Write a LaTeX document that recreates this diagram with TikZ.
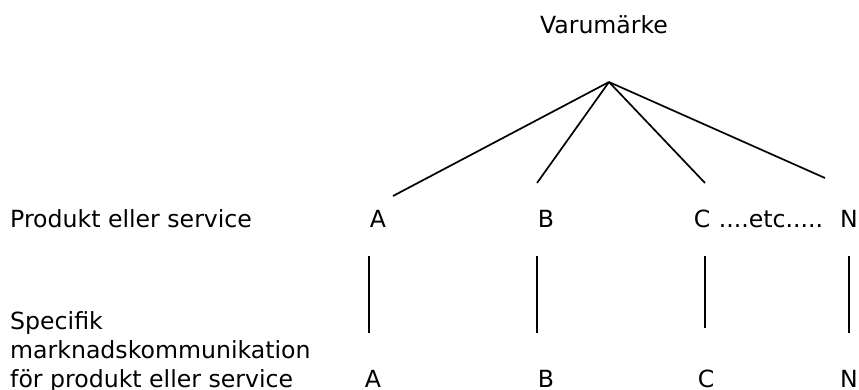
\documentclass[tikz,border=0pt]{standalone}
\usepackage{fontspec}
\setmainfont{DejaVu Sans}
\begin{document}
\begin{tikzpicture}[x=1bp,y=-1bp,
  lbl/.style={inner sep=0pt,anchor=base,font=\fontsize{23.7}{28}\selectfont},
  lbw/.style={lbl,anchor=base west},
  ln/.style={line width=1.7bp,black}]
\useasboundingbox[fill=white] (0,0) rectangle (859,389);
% top
\node[lbl] (brand) at (604,33) {Varumärke};
\coordinate (apex) at (609,82);
\coordinate (eA) at (393,196);
\coordinate (eB) at (537,183);
\coordinate (eC) at (705,183);
\coordinate (eN) at (825,178);
\foreach \e in {eA,eB,eC,eN} \draw[ln] (apex) -- (\e);
% product row
\node[lbw] (prod) at (10,227) {Produkt eller service};
\node[lbl] (pA) at (378,227) {A};
\node[lbl] (pB) at (546,227) {B};
\node[lbl] (pC) at (702,227) {C};
\node[lbl] (etc) at (771,227) {....etc.....};
\node[lbl] (pN) at (849,227) {N};
% vertical lines
\coordinate (aA1) at (369,256); \coordinate (aA2) at (369,333);
\coordinate (aB1) at (537,256); \coordinate (aB2) at (537,333);
\coordinate (aC1) at (705,256); \coordinate (aC2) at (705,328);
\coordinate (aN1) at (849,256); \coordinate (aN2) at (849,333);
\draw[ln] (aA1) -- (aA2);
\draw[ln] (aB1) -- (aB2);
\draw[ln] (aC1) -- (aC2);
\draw[ln] (aN1) -- (aN2);
% communication rows
\node[lbw] (spec1) at (10,329) {Specifik};
\node[lbw] (spec2) at (10,358) {marknadskommunikation};
\node[lbw] (spec3) at (10,387) {för produkt eller service};
\node[lbl] (cA) at (373,387) {A};
\node[lbl] (cB) at (546,387) {B};
\node[lbl] (cC) at (706,387) {C};
\node[lbl] (cN) at (849,387) {N};
\end{tikzpicture}
\end{document}
